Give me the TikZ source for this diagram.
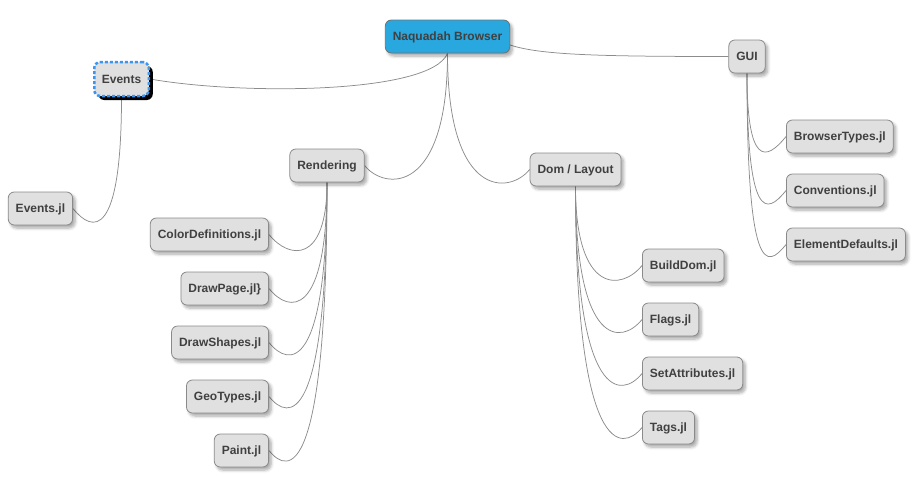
\documentclass[tikz,border=0pt]{standalone}
\usepackage{fontspec}
\setmainfont{Liberation Sans}
\usetikzlibrary{calc,shadows,shadows.blur,backgrounds}

\definecolor{textgray}{HTML}{404040}
\definecolor{boxfill}{HTML}{E0E0E0}
\definecolor{boxline}{HTML}{8A8A8A}
\definecolor{rootblue}{HTML}{29A8E0}
\definecolor{rootline}{HTML}{707070}
\definecolor{evblue}{HTML}{3A96F0}
\definecolor{linkgray}{HTML}{8C8C8C}

% branch from a parent's bottom to a child's side anchor
\newcommand\mmbranch[4]{%
  \draw[link] (#1.south) .. controls ($(#1.south |- #2.#3)+(0,30)$)
    and ($(#2.#3)+(#4,25)$) .. (#2.#3);}

\begin{document}
\begin{tikzpicture}[x=1pt,y=-1pt,
  every node/.style={font=\bfseries\fontsize{12}{14}\selectfont, text=textgray,
    text height=8.6pt, text depth=0pt},
  mmbox/.style={draw=boxline, line width=0.8pt, fill=boxfill, rounded corners=6pt,
    minimum height=33pt, inner xsep=7.5pt, inner ysep=0pt,
    blur shadow={shadow xshift=2.5pt, shadow yshift=-3pt, shadow blur steps=6,
      shadow blur radius=3pt, shadow opacity=35}},
  rootbox/.style={mmbox, fill=rootblue, draw=rootline},
  evbox/.style={draw=evblue, line width=2.5pt, dash pattern=on 3pt off 2pt,
    fill=boxfill, rounded corners=6pt, minimum height=34pt, minimum width=54.5pt,
    inner xsep=7.5pt, inner ysep=0pt,
    drop shadow={shadow xshift=4pt, shadow yshift=-4pt, fill=black, opacity=1}},
  link/.style={draw=linkgray, line width=0.75pt}]

\useasboundingbox (0,0) rectangle (915,479);

% main topics
\node[rootbox] (root) at (447.5,36.5) {Naquadah Browser};
\node[evbox] (ev) at (121.5,79) {Events};
\node[mmbox] (gui) at (747,56.5) {GUI};
\node[mmbox] (rend) at (327,165.5) {Rendering};
\node[mmbox] (dom) at (575.5,169.5) {Dom / Layout};

% Events
\node[mmbox, anchor=east] (evjl) at (73,208.5) {Events.jl};

% Rendering
\node[mmbox, anchor=east] (colordef) at (269,234.5) {ColorDefinitions.jl};
\node[mmbox, anchor=east] (drawpage) at (269,288.5) {DrawPage.jl\}};
\node[mmbox, anchor=east] (drawshapes) at (269,342.5) {DrawShapes.jl};
\node[mmbox, anchor=east] (geotypes) at (269,396.5) {GeoTypes.jl};
\node[mmbox, anchor=east] (paint) at (269,450.5) {Paint.jl};

% Dom / Layout
\node[mmbox, anchor=west] (builddom) at (642,265.5) {BuildDom.jl};
\node[mmbox, anchor=west] (flags) at (642,319.5) {Flags.jl};
\node[mmbox, anchor=west] (setattr) at (642,373.5) {SetAttributes.jl};
\node[mmbox, anchor=west] (tags) at (642,427.5) {Tags.jl};

% GUI
\node[mmbox, anchor=west] (btypes) at (786,136.5) {BrowserTypes.jl};
\node[mmbox, anchor=west] (conv) at (786,190.5) {Conventions.jl};
\node[mmbox, anchor=west] (edefaults) at (786,244.5) {ElementDefaults.jl};

\begin{scope}[on background layer]
  % root links
  \draw[link] (root.south) .. controls ($(root.south)+(-17,41)$)
    and ($(ev.east)+(90,16)$) .. (ev.east);
  \draw[link] ($(root.east)+(0,8.5)$) .. controls ($(root.east)+(30,18.5)$)
    and ($(gui.west)+(-129,0)$) .. (gui.west);
  \mmbranch{root}{rend}{east}{20}
  \mmbranch{root}{dom}{west}{-20}
  % Events
  \mmbranch{ev}{evjl}{east}{20}
  % Rendering
  \mmbranch{rend}{colordef}{east}{20}
  \mmbranch{rend}{drawpage}{east}{20}
  \mmbranch{rend}{drawshapes}{east}{20}
  \mmbranch{rend}{geotypes}{east}{20}
  \mmbranch{rend}{paint}{east}{20}
  % Dom / Layout
  \mmbranch{dom}{builddom}{west}{-20}
  \mmbranch{dom}{flags}{west}{-20}
  \mmbranch{dom}{setattr}{west}{-20}
  \mmbranch{dom}{tags}{west}{-20}
  % GUI
  \mmbranch{gui}{btypes}{west}{-20}
  \mmbranch{gui}{conv}{west}{-20}
  \mmbranch{gui}{edefaults}{west}{-20}
\end{scope}
\end{tikzpicture}
\end{document}
